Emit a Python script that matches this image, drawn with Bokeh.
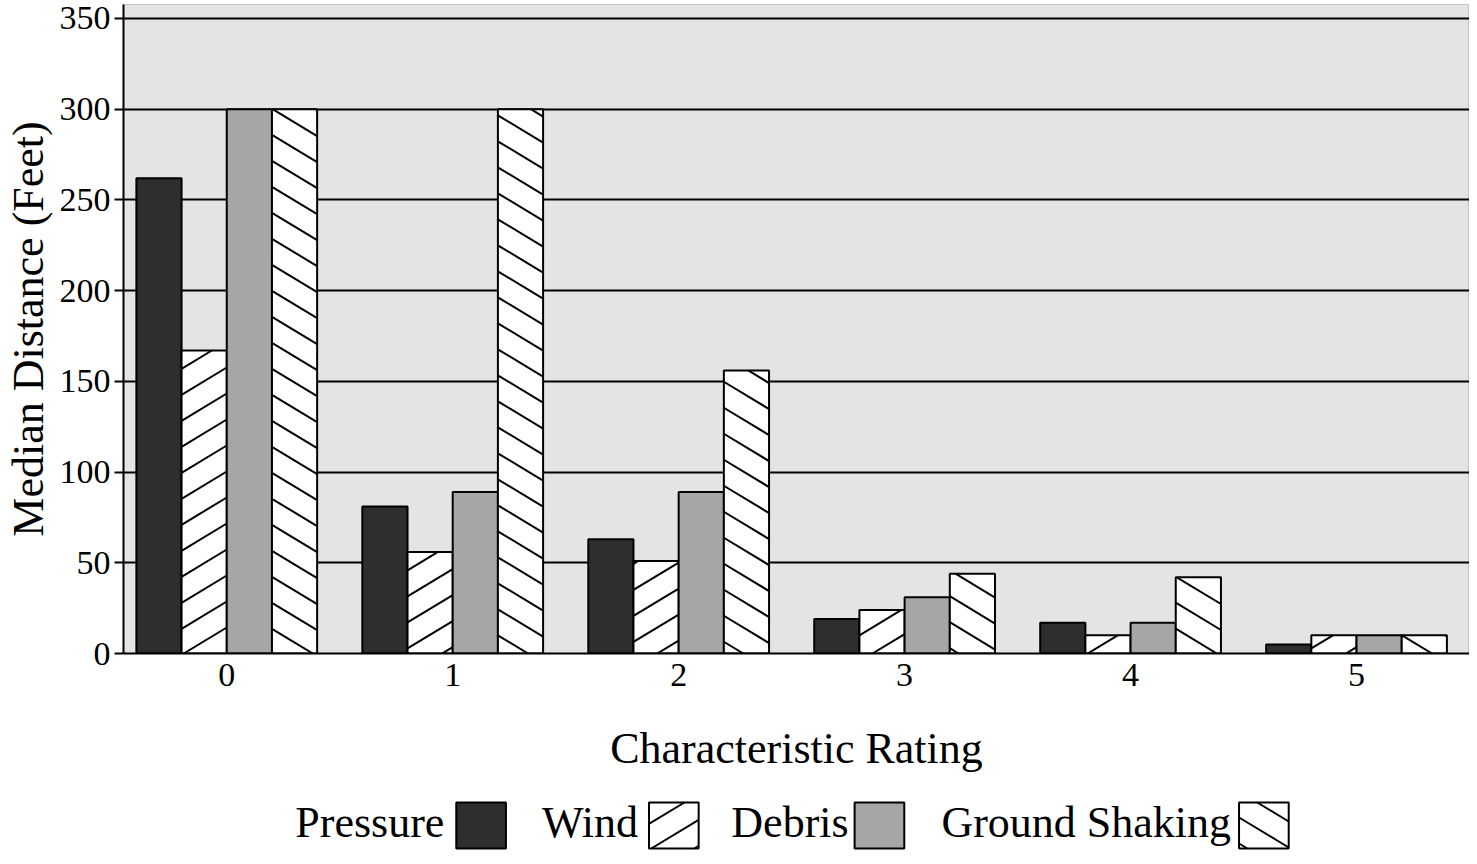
import math
from bokeh.plotting import figure
from bokeh.models import ColumnDataSource, Range1d, FixedTicker
from bokeh.transform import dodge
from bokeh.layouts import column
from bokeh.core.properties import value
from bokeh.embed import file_html
from bokeh.resources import INLINE

# ---------------- data ----------------
ratings = [0, 1, 2, 3, 4, 5]
rating_labels = ["0", "1", "2", "3", "4", "5"]
pressure = [262, 81, 63, 19, 17, 5]
wind = [167, 56, 51, 24, 10, 10]
debris = [300, 89, 89, 31, 17, 10]
ground_shaking = [300, 300, 156, 44, 42, 10]
series_names = ["Pressure", "Wind", "Debris", "Ground Shaking"]
y_ticks = [0, 50, 100, 150, 200, 250, 300, 350]

# ---------------- styling / layout ----------------
FONT = "Liberation Serif"
FIG_W, FIG_H = 1469, 786
BORDER_L, BORDER_T, BORDER_B = 114, 4, 133
X_START, X_END = -0.457, 5.5
Y_START, Y_END = 0, 357.7
BAR_W = 0.2
offsets = [-0.3, -0.1, 0.1, 0.3]
fills = ["#2e2e2e", "white", "#a6a6a6", "white"]
hatch_slopes = [None, 0.6, None, -0.6]   # pixel slopes of hatch lines (y up)
HATCH_SPACING = 26                         # vertical pixel spacing of hatch lines


def hatch_segments(xl, xr, yb, yt, sx, sy, slope, spacing):
    """Clip parallel hatch lines (defined in pixel space) to a rectangle."""
    X0, X1, Y0, Y1 = xl * sx, xr * sx, yb * sy, yt * sy
    if slope > 0:
        cmin, cmax = Y0 - slope * X1, Y1 - slope * X0
    else:
        cmin, cmax = Y0 - slope * X0, Y1 - slope * X1
    out = []
    for k in range(math.floor(cmin / spacing), math.ceil(cmax / spacing) + 1):
        c = k * spacing
        xa, xb = (Y0 - c) / slope, (Y1 - c) / slope
        lo, hi = max(min(xa, xb), X0), min(max(xa, xb), X1)
        if hi - lo > 0.5:
            out.append((lo / sx, (slope * lo + c) / sy, hi / sx, (slope * hi + c) / sy))
    return out


series_values = [pressure, wind, debris, ground_shaking]
cols = ["Pressure", "Wind", "Debris", "GroundShaking"]
source = ColumnDataSource(dict(x=ratings, Pressure=pressure, Wind=wind,
                               Debris=debris, GroundShaking=ground_shaking))

p = figure(width=FIG_W, height=FIG_H, output_backend="svg", toolbar_location=None,
           x_range=Range1d(X_START, X_END), y_range=Range1d(Y_START, Y_END),
           min_border_left=BORDER_L, min_border_right=0, min_border_top=BORDER_T,
           min_border_bottom=BORDER_B)
p.background_fill_color = "#e4e4e4"
p.border_fill_color = "white"
p.outline_line_color = "#c4c4c4"

frame_w = FIG_W - BORDER_L
frame_h = FIG_H - BORDER_T - BORDER_B
sx = frame_w / (X_END - X_START)
sy = frame_h / (Y_END - Y_START)

for col, vals, off, fc, slope in zip(cols, series_values, offsets, fills, hatch_slopes):
    p.vbar(x=dodge("x", off), top=col, width=BAR_W, bottom=0, source=source,
           fill_color=fc, line_color=None)
    if slope is not None:
        segs = []
        for r, v in zip(ratings, vals):
            segs += hatch_segments(r + off - BAR_W / 2, r + off + BAR_W / 2, 0, v,
                                   sx, sy, slope, HATCH_SPACING)
        p.segment(x0=[s[0] for s in segs], y0=[s[1] for s in segs],
                  x1=[s[2] for s in segs], y1=[s[3] for s in segs],
                  line_color="black", line_width=2)
    p.vbar(x=dodge("x", off), top=col, width=BAR_W, bottom=0, source=source,
           fill_color=None, line_color="black", line_width=2)

p.xgrid.visible = False
p.ygrid.ticker = FixedTicker(ticks=y_ticks)
p.ygrid.grid_line_color = "black"
p.ygrid.grid_line_width = 2
p.ygrid.level = "underlay"

p.yaxis.ticker = FixedTicker(ticks=y_ticks)
p.xaxis.ticker = FixedTicker(ticks=ratings)
p.xaxis.major_label_overrides = {r: l for r, l in zip(ratings, rating_labels)}
for ax in (p.xaxis[0], p.yaxis[0]):
    ax.axis_line_color = "black"
    ax.axis_line_width = 2
    ax.minor_tick_line_color = None
    ax.major_label_text_font = FONT
    ax.major_label_text_font_size = "34px"
    ax.major_label_text_color = "black"
    ax.axis_label_text_font = FONT
    ax.axis_label_text_font_size = "44px"
    ax.axis_label_text_font_style = "normal"
    ax.axis_label_text_color = "black"
p.yaxis.major_tick_out = 9
p.yaxis.major_tick_in = 0
p.yaxis.major_tick_line_color = "black"
p.yaxis.major_tick_line_width = 2
p.yaxis.major_label_standoff = 4
p.yaxis.axis_label = "Median Distance (Feet)"
p.yaxis.axis_label_standoff = 4
p.xaxis.major_tick_out = 0
p.xaxis.major_tick_in = 0
p.xaxis.major_label_standoff = 10
p.xaxis.axis_label = "Characteristic Rating"
p.xaxis.axis_label_standoff = 35

# ---------------- legend (labels before swatches) ----------------
# The column layout aligns this frame with the chart frame, so the legend's
# x range is expressed in page pixels spanning the same frame.
LG_H = 64
LG_X0 = 8 + BORDER_L
lg = figure(width=FIG_W, height=LG_H, output_backend="svg", toolbar_location=None,
            x_range=Range1d(LG_X0, LG_X0 + frame_w), y_range=Range1d(0, LG_H),
            min_border=0, min_border_left=BORDER_L, min_border_right=0)
lg.axis.visible = False
lg.grid.visible = False
lg.outline_line_color = None
lg.background_fill_color = "white"
swatch_x = [482, 676, 883, 1270]
label_right = [445, 640, 852, 1237]
SW_W, SW_H, SW_Y = 50, 46, 25
for name, cx, tx, fc, slope in zip(series_names, swatch_x, label_right, fills, hatch_slopes):
    lg.rect(x=[cx], y=[SW_Y], width=SW_W, height=SW_H, fill_color=fc, line_color=None)
    if slope is not None:
        segs = hatch_segments(cx - SW_W / 2, cx + SW_W / 2, SW_Y - SW_H / 2,
                              SW_Y + SW_H / 2, 1, 1, slope, HATCH_SPACING)
        lg.segment(x0=[s[0] for s in segs], y0=[s[1] for s in segs],
                   x1=[s[2] for s in segs], y1=[s[3] for s in segs],
                   line_color="black", line_width=2)
    lg.rect(x=[cx], y=[SW_Y], width=SW_W, height=SW_H, fill_color=None,
            line_color="black", line_width=2)
    lg.text(x=[tx], y=[SW_Y + 3], text=[name], text_align="right",
            text_baseline="middle", text_font=value(FONT),
            text_font_size="44px", text_color="black")

layout = column(p, lg, spacing=0)
open("out.html", "w").write(file_html(layout, INLINE))
